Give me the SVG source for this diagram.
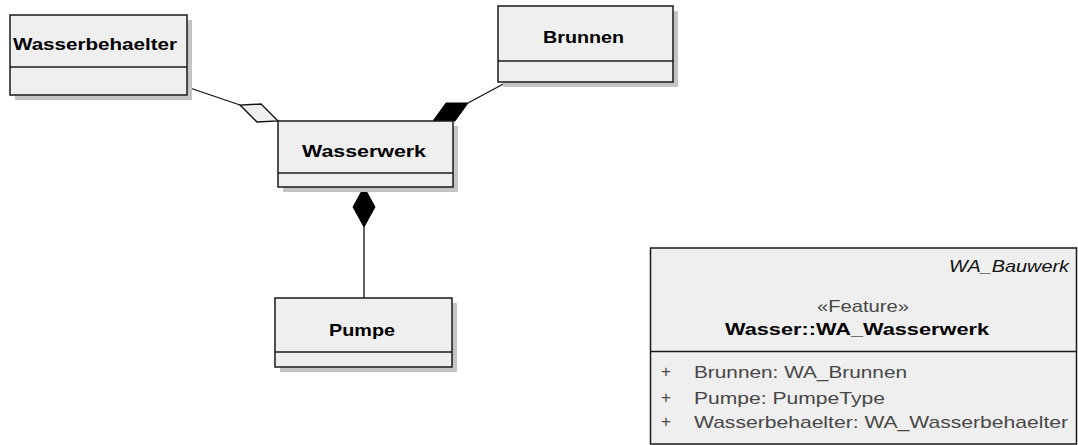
<svg xmlns="http://www.w3.org/2000/svg" width="1078" height="445" viewBox="0 0 1078 445">
  <style>
    .shadow { fill: #c4c4c4; }
    .box { fill: #efefef; stroke: #1a1a1a; stroke-width: 1.5; }
    .div { stroke: #1a1a1a; stroke-width: 1.5; }
    .name { font-family: "Liberation Sans", Arial, sans-serif; font-weight: bold; font-size: 17px; fill: #000; }
    .attr { font-family: "Liberation Sans", Arial, sans-serif; font-size: 17px; fill: #474747; }
    .conn { stroke: #111; stroke-width: 1.3; fill: none; }
  </style>
  <rect width="1078" height="445" fill="#ffffff"/>

  <!-- associations -->
  <g id="connectors">
    <line class="conn" x1="187" y1="87" x2="240" y2="105"/>
    <polygon points="278,121 261,104 240,105 257,122" fill="#efefef" stroke="#111" stroke-width="1.3"/>
    <line class="conn" x1="468" y1="103" x2="507" y2="82"/>
    <polygon points="433,121 446,103 468,103 455,121" fill="#000" stroke="#000" stroke-width="1"/>
    <line class="conn" x1="364" y1="227" x2="364" y2="298"/>
    <polygon points="364,187 375,207 364,227 353,207" fill="#000" stroke="#000" stroke-width="1"/>
  </g>

  <g id="wasserbehaelter">
    <rect class="shadow" x="15" y="20" width="177" height="80"/>
    <rect class="box" x="10" y="15" width="177" height="80"/>
    <line class="div" x1="10" y1="67" x2="187" y2="67"/>
    <text class="name" x="13" y="50" textLength="164" lengthAdjust="spacingAndGlyphs">Wasserbehaelter</text>
  </g>

  <g id="brunnen">
    <rect class="shadow" x="503" y="11" width="175" height="76"/>
    <rect class="box" x="498" y="6" width="175" height="76"/>
    <line class="div" x1="498" y1="61" x2="673" y2="61"/>
    <text class="name" x="543" y="43" textLength="81" lengthAdjust="spacingAndGlyphs">Brunnen</text>
  </g>

  <g id="wasserwerk">
    <rect class="shadow" x="283" y="126" width="175" height="66"/>
    <rect class="box" x="278" y="121" width="175" height="66"/>
    <line class="div" x1="278" y1="173" x2="453" y2="173"/>
    <text class="name" x="302" y="157" textLength="124" lengthAdjust="spacingAndGlyphs">Wasserwerk</text>
  </g>

  <g id="pumpe">
    <rect class="shadow" x="280" y="303" width="177" height="69"/>
    <rect class="box" x="275" y="298" width="177" height="69"/>
    <line class="div" x1="275" y1="352" x2="452" y2="352"/>
    <text class="name" x="329" y="336" textLength="66" lengthAdjust="spacingAndGlyphs">Pumpe</text>
  </g>

  <g id="wa-wasserwerk">
    <rect class="box" x="650.5" y="248" width="426" height="196" stroke="#333"/>
    <line class="div" x1="650.5" y1="351.5" x2="1076.5" y2="351.5" stroke="#333"/>
    <text x="1069" y="272" text-anchor="end" font-family="Liberation Sans, Arial, sans-serif" font-style="italic" font-size="16.5" fill="#111" textLength="120" lengthAdjust="spacingAndGlyphs">WA_Bauwerk</text>
    <text class="attr" x="817" y="312" textLength="92" lengthAdjust="spacingAndGlyphs">«Feature»</text>
    <text class="name" x="725" y="335" textLength="264" lengthAdjust="spacingAndGlyphs">Wasser::WA_Wasserwerk</text>
    <text class="attr" x="666" y="377" text-anchor="middle" font-size="15">+</text>
    <text class="attr" x="694" y="378" textLength="213" lengthAdjust="spacingAndGlyphs">Brunnen:  WA_Brunnen</text>
    <text class="attr" x="666" y="403" text-anchor="middle" font-size="15">+</text>
    <text class="attr" x="694" y="404" textLength="191" lengthAdjust="spacingAndGlyphs">Pumpe:  PumpeType</text>
    <text class="attr" x="666" y="427" text-anchor="middle" font-size="15">+</text>
    <text class="attr" x="694" y="428" textLength="374" lengthAdjust="spacingAndGlyphs">Wasserbehaelter:  WA_Wasserbehaelter</text>
  </g>
</svg>
